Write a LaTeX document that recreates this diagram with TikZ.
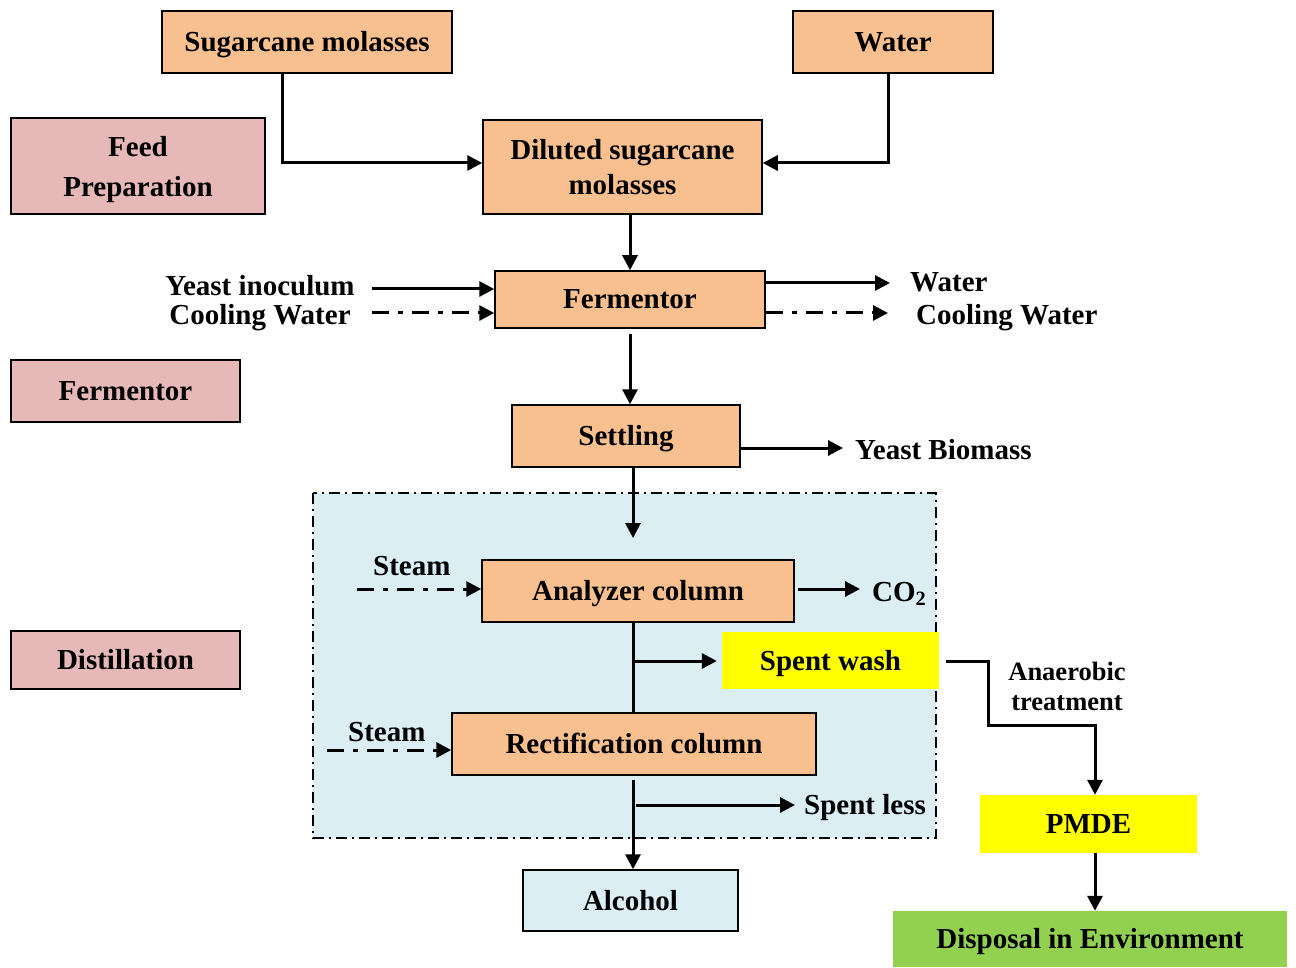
\documentclass[tikz,border=0pt]{standalone}
\usepackage{fontspec}
\setmainfont{Liberation Serif}
\usetikzlibrary{arrows.meta}
\definecolor{orng}{HTML}{F9C08F}
\definecolor{pnk}{HTML}{E6B9B8}
\definecolor{lblue}{HTML}{DAEEF3}
\definecolor{ylw}{HTML}{FFFF00}
\definecolor{grn}{HTML}{92D050}
\begin{document}
\begin{tikzpicture}[x=1pt,y=-1pt,
  every node/.style={font=\fontsize{29}{35}\selectfont\bfseries, inner sep=0pt},
  one/.style={text height=25pt, text depth=6pt},
  obox/.style={draw=black, line width=1.5pt, fill=orng, align=center},
  pbox/.style={draw=black, line width=1.5pt, fill=pnk, align=center},
  bbox/.style={draw=black, line width=1.5pt, fill=lblue, align=center},
  ybox/.style={fill=ylw, align=center},
  gbox/.style={fill=grn, align=center},
  lbl/.style={anchor=base},
  tight/.style={text height=19pt, text depth=3pt},
  lbll/.style={anchor=base west},
  arr/.style={line width=3pt, -{Triangle[length=15pt,width=15pt]}},
  ln/.style={line width=3pt},
  dda/.style={line width=3pt, dash pattern=on 17pt off 9pt on 5pt off 9pt, -{Triangle[length=15pt,width=15pt]}},
  region/.style={line width=1.5pt, dash pattern=on 11pt off 5pt on 2pt off 5pt, fill=lblue}
]
\useasboundingbox (0,0) rectangle (1296,968);

% region
\draw[region] (313,493) rectangle (936,838);

% boxes
\node[obox, one, minimum width=290, minimum height=62] (sm) at (307,42) {Sugarcane molasses};
\node[obox, one, minimum width=200, minimum height=62] (wat) at (893,42) {Water};
\node[pbox, minimum width=254, minimum height=96] (fp) at (138,166) {};
\node[align=center, font=\fontsize{29}{40}\selectfont\bfseries] (fpt) at (138,170) {Feed\\Preparation};
\node[obox, minimum width=279, minimum height=94] (dil) at (622.5,167) {Diluted sugarcane\\molasses};
\node[obox, one, minimum width=270, minimum height=57] (fer) at (630,299.5) {Fermentor};
\node[pbox, one, minimum width=229, minimum height=62] (ferl) at (125.5,391) {Fermentor};
\node[obox, one, minimum width=228, minimum height=62] (set) at (626,436) {Settling};
\node[obox, one, minimum width=312, minimum height=62] (ana) at (638,591) {Analyzer column};
\node[ybox, one, minimum width=217, minimum height=57] (sw) at (830.5,660.5) {Spent wash};
\node[pbox, one, minimum width=229, minimum height=58] (dis) at (125.5,660) {Distillation};
\node[obox, one, minimum width=364, minimum height=62] (rec) at (634,744) {Rectification column};
\node[bbox, one, minimum width=215, minimum height=61] (alc) at (630.5,900.5) {Alcohol};
\node[ybox, one, minimum width=217, minimum height=58] (pm) at (1088.5,824) {PMDE};
\node[gbox, one, minimum width=394, minimum height=56] (dp) at (1090,939) {Disposal in Environment};

% labels
\node[lbl, tight] (yi) at (260,296) {Yeast inoculum};
\node[lbl, tight] (cwl) at (260,325) {Cooling Water};
\node[lbll] (wr) at (910,292) {Water};
\node[lbll] (cwr) at (916,325) {Cooling Water};
\node[lbll] (yb) at (855,459) {Yeast Biomass};
\node[lbll] (st1) at (373,575) {Steam};
\node[lbll] (co) at (872,601) {CO\textsubscript{2}};
\node[lbll] (st2) at (348,741) {Steam};
\node[lbll] (sl) at (804,814) {Spent less};
\node[lbl, align=center, font=\fontsize{26.5}{30}\selectfont\bfseries] (an) at (1067,710) {Anaerobic\\treatment};

% free ends
\coordinate (yiS) at (372,289);
\coordinate (cwlS) at (372,313);
\coordinate (wrE) at (890,283);
\coordinate (cwrE) at (888,313);
\coordinate (ybE) at (843,448);
\coordinate (setE) at (633,538);
\coordinate (st1S) at (357,589);
\coordinate (coE) at (860,589);
\coordinate (st2S) at (327,750);
\coordinate (slE) at (795,805);
\coordinate (b1) at (633,661);
\coordinate (b2) at (636,805);
\coordinate (swS) at (946,661);
\coordinate (c1) at (988,661);
\coordinate (c2) at (1095,725);

% connectors
\draw[arr] ([xshift=-25]sm.south) |- ([yshift=4]dil.west);
\draw[arr] ([xshift=-5]wat.south) |- ([yshift=4]dil.east);
\draw[arr] (dil.south -| fer.north) -- (fer.north);
\draw[arr] (yiS) -- (yiS -| fer.west);
\draw[dda] (cwlS) -- (cwlS -| fer.west);
\draw[arr] (wrE -| fer.east) -- (wrE);
\draw[dda] (cwrE -| fer.east) -- (cwrE);
\draw[arr] ([yshift=-5]fer.south) -- (fer.south |- set.north);
\draw[arr] (ybE -| set.east) -- (ybE);
\draw[arr] (setE |- set.south) -- (setE);
\draw[dda] (st1S) -- (st1S -| ana.west);
\draw[arr] ([xshift=3]coE -| ana.east) -- (coE);
\draw[ln] (b1 |- ana.south) -- (b1 |- rec.north);
\draw[arr] (b1) -- ([xshift=-5]b1 -| sw.west);
\draw[dda] (st2S) -- (st2S -| rec.west);
\draw[arr] ([yshift=-4]b1 |- rec.south) -- (b1 |- alc.north);
\draw[arr] (b2) -- (slE);
\draw[arr] (swS) -- (c1) |- (c2) -- (c2 |- pm.north);
\draw[arr] (c2 |- pm.south) -- (c2 |- dp.north);
\end{tikzpicture}
\end{document}
